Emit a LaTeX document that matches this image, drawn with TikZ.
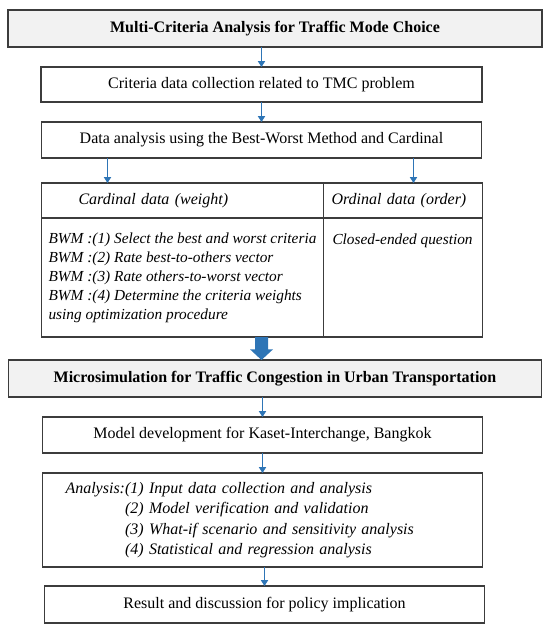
\documentclass[tikz,border=0pt]{standalone}
\usepackage{fontspec}
\setmainfont{Liberation Serif}
\usepackage{xcolor}
\usepackage{tikz}
\usetikzlibrary{arrows.meta,positioning,calc}
\definecolor{arrowblue}{RGB}{46,117,182}
\definecolor{headfill}{RGB}{242,242,242}
\definecolor{boxline}{RGB}{60,60,60}

\begin{document}
\begin{tikzpicture}[node distance=15pt and 0pt,box/.style={draw=boxline,line width=0.9pt,align=center,inner sep=0pt,outer sep=0pt,minimum width=330pt,minimum height=27pt,font=\fontsize{12}{14.6}\selectfont},headbox/.style={box,fill=headfill,minimum width=400.5pt,minimum height=27.75pt,font=\fontsize{12}{14.6}\selectfont\bfseries},cell/.style={box,align=left,font=\fontsize{12}{14.6}\selectfont\itshape},arr/.style={-{Triangle[width=5.5pt,length=4.5pt]},arrowblue,line width=0.75pt}]
\useasboundingbox (0,0) rectangle (412.5pt,-474pt);
\node[headbox,anchor=north](mca) at (206.25pt,-7.5pt){Multi-Criteria Analysis for Traffic Mode Choice};
\node[box,below=of mca,xshift=-10.125pt,minimum width=330.75pt,minimum height=26.25pt](collect){Criteria data collection related to TMC problem};
\node[box,below=of collect](bwm){Data analysis using the Best-Worst Method and Cardinal};
% table of the two data kinds
\node[cell,below right=18.75pt and 0pt of bwm.south west,minimum width=211.5pt,minimum height=26.25pt,text width=156pt](cardhead){Cardinal data (weight)};
\node[cell,right=0pt of cardhead,minimum width=119.25pt,minimum height=26.25pt,text width=107.25pt](ordhead){Ordinal data (order)};
\node[cell,below=0pt of cardhead,minimum width=211.5pt,minimum height=89.25pt,font=\fontsize{11.5}{14.25}\selectfont\itshape](cardbody){BWM :(1) Select the best and worst criteria\\BWM :(2) Rate best-to-others vector\\BWM :(3) Rate others-to-worst vector\\BWM :(4) Determine the criteria weights\\using optimization procedure};
\node[cell,below=0pt of ordhead,minimum width=119.25pt,minimum height=89.25pt,font=\fontsize{11.5}{14.25}\selectfont\itshape](ordbody){\parbox[t][65pt][t]{105.75pt}{Closed-ended question}};
\node[headbox,anchor=north,yshift=-17.25pt,minimum width=399.75pt](micro) at (mca |- cardbody.south){Microsimulation for Traffic Congestion in Urban Transportation};
\node[box,below=of micro,xshift=-9.375pt](model){Model development for Kaset-Interchange, Bangkok};
\node[box,below=of model,minimum height=70.5pt,text width=295.5pt,align=left,font=\fontsize{12}{15.2}\selectfont\itshape](analysis){\begin{tabular}{@{}l@{}l@{}}Analysis:&(1) Input data collection and analysis\\&(2) Model verification and validation\\&(3) What-if scenario and sensitivity analysis\\&(4) Statistical and regression analysis\end{tabular}};
\node[box,below=14.25pt of analysis,xshift=1.5pt,minimum height=27.75pt](result){Result and discussion for policy implication};
% connectors
\draw[arr](collect.north |- mca.south)--(collect.north); \draw[arr](collect)--(bwm);
\draw[arr]([xshift=49.5pt]bwm.south west)--([xshift=49.5pt]bwm.south west |- cardhead.north);
\draw[arr]([xshift=279pt]bwm.south west)--([xshift=279pt]bwm.south west |- ordhead.north);
\coordinate (bigtop) at (bwm.south |- cardbody.south); \coordinate (bigtip) at (bwm.south |- micro.north);
\fill[arrowblue]($(bigtop)+(-4.875pt,0)$)--($(bigtop)+(4.875pt,0)$)--($(bigtip)+(4.875pt,8pt)$)--($(bigtip)+(8.625pt,8pt)$)--(bigtip)--($(bigtip)+(-8.625pt,8pt)$)--($(bigtip)+(-4.875pt,8pt)$)--cycle;
\draw[arr](model.north |- micro.south)--(model.north); \draw[arr](model)--(analysis); \draw[arr](analysis.south -| result.north)--(result);
\end{tikzpicture}
\end{document}
